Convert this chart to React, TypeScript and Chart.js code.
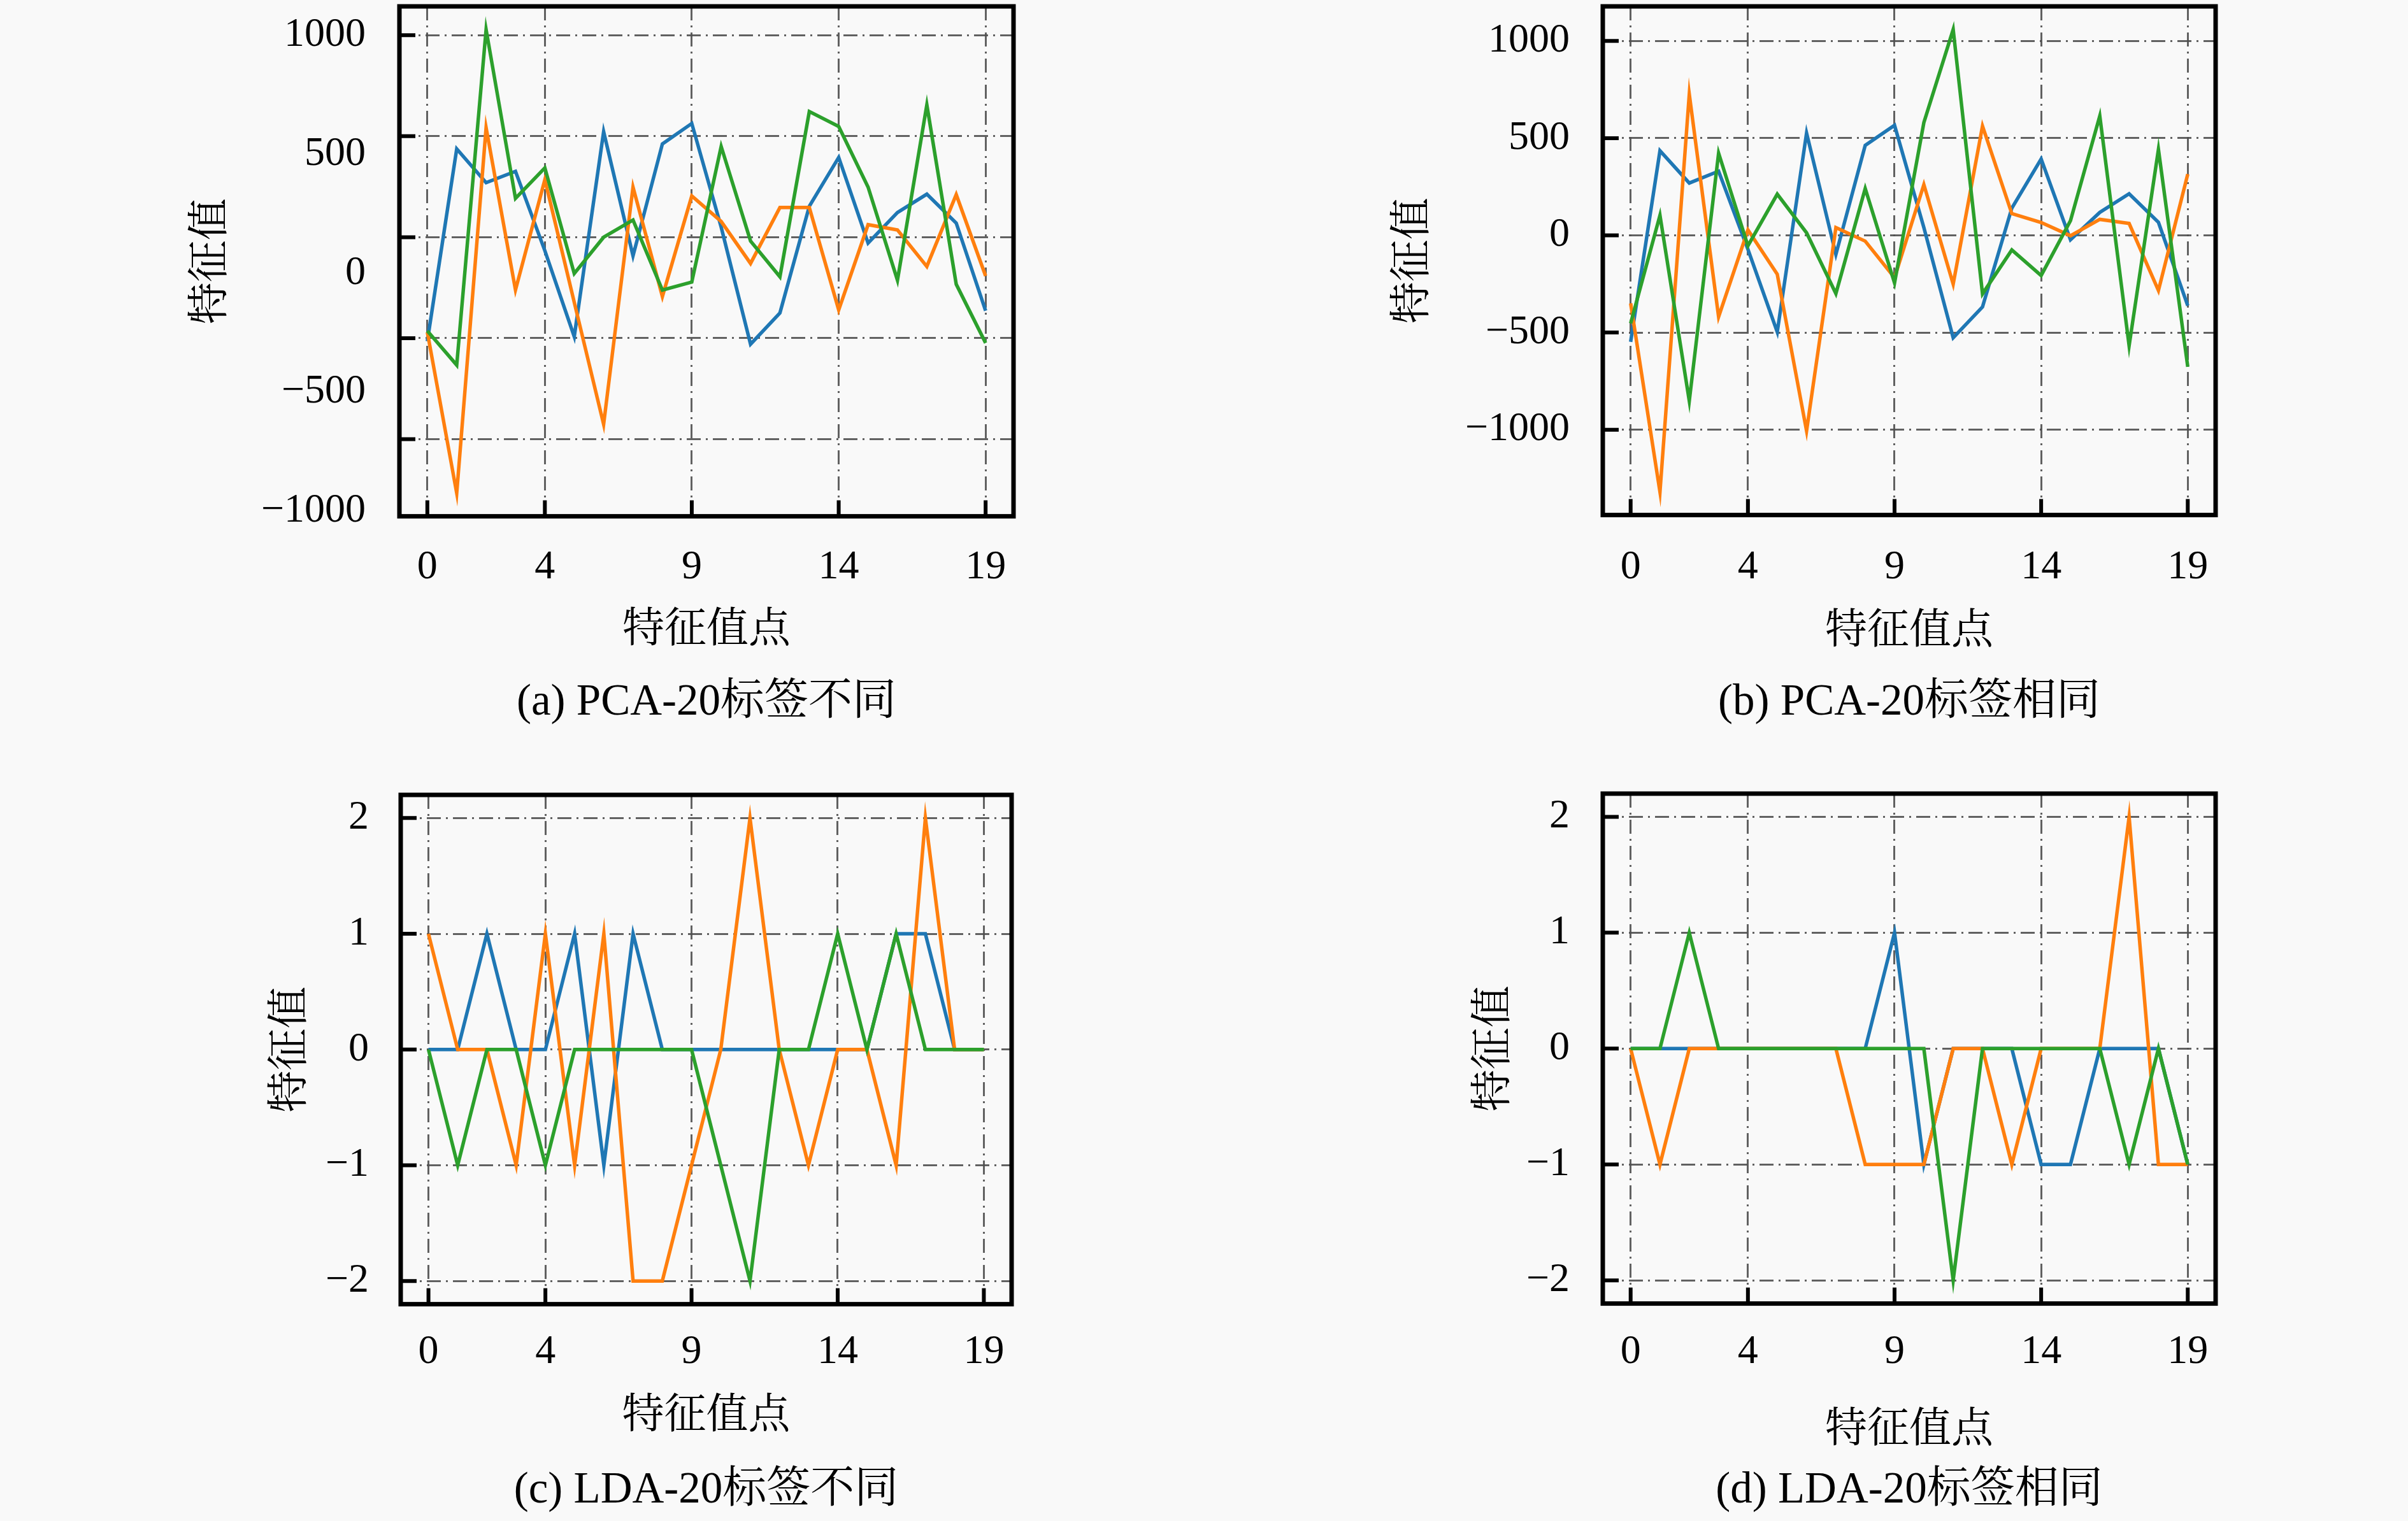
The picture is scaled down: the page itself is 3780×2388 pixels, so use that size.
import React, { useEffect, useRef } from 'react';
import { Chart, registerables } from 'chart.js';

Chart.register(...registerables);

// ---------- data ----------
const featureIdx = [0, 1, 2, 3, 4, 5, 6, 7, 8, 9, 10, 11, 12, 13, 14, 15, 16, 17, 18, 19];
const xTicks = [0, 4, 9, 14, 19];
const yTicksPCA = [-1000, -500, 0, 500, 1000];
const yTicksLDA = [-2, -1, 0, 1, 2];

// (a) PCA-20 labels differ
const pcaDiffBlue = [-515, 437, 270, 326, -67, -492, 522, -92, 462, 563, 50, -530, -375, 153, 395, -29, 122, 213, 70, -364];
const pcaDiffOrange = [-470, -1267, 542, -261, 285, -322, -926, 248, -294, 204, 78, -130, 147, 147, -360, 62, 36, -145, 211, -192];
const pcaDiffGreen = [-464, -633, 1028, 192, 343, -180, 0, 85, -262, -222, 449, -19, -196, 622, 548, 248, -213, 655, -233, -524];

// (b) PCA-20 labels same
const pcaSameBlue = [-548, 435, 269, 330, -72, -497, 526, -98, 463, 566, 40, -527, -368, 140, 393, -23, 118, 214, 67, -362];
const pcaSameOrange = [-350, -1320, 726, -419, 28, -200, -1006, 40, -30, -218, 261, -251, 562, 112, 66, -2, 82, 61, -284, 315];
const pcaSameGreen = [-453, 103, -852, 423, -54, 212, 13, -300, 241, -245, 580, 1059, -301, -75, -207, 75, 614, -568, 442, -676];

// (c) LDA-20 labels differ
const ldaDiffBlue = [0, 0, 1, 0, 0, 1, -1, 1, 0, 0, 0, 0, 0, 0, 0, 0, 1, 1, 0, 0];
const ldaDiffOrange = [1, 0, 0, -1, 1, -1, 1, -2, -2, -1, 0, 2, 0, -1, 0, 0, -1, 2, 0, 0];
const ldaDiffGreen = [0, -1, 0, 0, -1, 0, 0, 0, 0, 0, -1, -2, 0, 0, 1, 0, 1, 0, 0, 0];

// (d) LDA-20 labels same
const ldaSameBlue = [0, 0, 0, 0, 0, 0, 0, 0, 0, 1, -1, 0, 0, 0, -1, -1, 0, 0, 0, -1];
const ldaSameOrange = [0, -1, 0, 0, 0, 0, 0, 0, -1, -1, -1, 0, 0, -1, 0, 0, 0, 2, -1, -1];
const ldaSameGreen = [0, 0, 1, 0, 0, 0, 0, 0, 0, 0, 0, -2, 0, 0, 0, 0, 0, -1, 0, -1];

const xTitle = '特征值点';
const yTitle = '特征值';

// ---------- style ----------
const COLORS = ['#1f77b4', '#ff7f0e', '#2ca02c'];
const FONT = "'Liberation Serif', 'Noto Serif CJK SC', 'Noto Sans CJK SC', serif";
const FS = 64;
const FS_TITLE = 66;
const FS_CAPTION = 69;
const LH = 1.2;
const GRID_COLOR = 'rgba(80,80,80,0.9)';
const GRID_DASH = [22, 8, 3, 8];
const LINE_W = 5.5;

type PanelCfg = {
  caption: string;
  series: number[][];
  yTicks: number[];
  labelRange?: [number, number];
  frame: { l: number; r: number; t: number; b: number };
  yTitleX: number;
  tickRight: number;
  xTickY: number;
  xTitleY: number;
  captionY: number;
};

const panels: PanelCfg[] = [
  {
    caption: '(a) PCA-20标签不同',
    series: [pcaDiffBlue, pcaDiffOrange, pcaDiffGreen],
    yTicks: yTicksPCA,
    labelRange: [-1022, 1122],
    frame: { l: 627, r: 1591, t: 10, b: 811 },
    yTitleX: 333, tickRight: 574, xTickY: 892, xTitleY: 991, captionY: 1104,
  },
  {
    caption: '(b) PCA-20标签相同',
    series: [pcaSameBlue, pcaSameOrange, pcaSameGreen],
    yTicks: yTicksPCA,
    frame: { l: 2516, r: 3478, t: 10, b: 809 },
    yTitleX: 2220, tickRight: 2464, xTickY: 892, xTitleY: 993, captionY: 1104,
  },
  {
    caption: '(c) LDA-20标签不同',
    series: [ldaDiffBlue, ldaDiffOrange, ldaDiffGreen],
    yTicks: yTicksLDA,
    frame: { l: 629, r: 1588, t: 1248, b: 2048 },
    yTitleX: 458, tickRight: 579, xTickY: 2124, xTitleY: 2225, captionY: 2341,
  },
  {
    caption: '(d) LDA-20标签相同',
    series: [ldaSameBlue, ldaSameOrange, ldaSameGreen],
    yTicks: yTicksLDA,
    frame: { l: 2516, r: 3478, t: 1246, b: 2047 },
    yTitleX: 2347, tickRight: 2464, xTickY: 2124, xTitleY: 2247, captionY: 2341,
  },
];

function paddedRange(series: number[][]): [number, number] {
  const all = series.flat();
  const lo = Math.min(...all);
  const hi = Math.max(...all);
  const m = 0.05 * (hi - lo);
  return [lo - m, hi + m];
}

const fmt = (v: number) => (v < 0 ? '\u2212' + Math.abs(v) : String(v));

const frameTicks = {
  id: 'frameTicks',
  afterDraw(chart: any) {
    const { ctx, chartArea, scales } = chart;
    const { left, right, top, bottom } = chartArea;
    ctx.save();
    ctx.strokeStyle = '#000';
    ctx.lineCap = 'butt';
    ctx.lineWidth = 6;
    ctx.beginPath();
    scales.x.ticks.forEach((t: any) => {
      const px = scales.x.getPixelForValue(t.value);
      ctx.moveTo(px, bottom);
      ctx.lineTo(px, bottom - 25);
    });
    scales.y.ticks.forEach((t: any) => {
      const py = scales.y.getPixelForValue(t.value);
      ctx.moveTo(left, py);
      ctx.lineTo(left + 25, py);
    });
    ctx.stroke();
    ctx.lineWidth = 7;
    ctx.strokeRect(left, top, right - left, bottom - top);
    ctx.restore();
  },
};

function Panel({ cfg }: { cfg: PanelCfg }) {
  const ref = useRef<HTMLCanvasElement>(null);
  const lh = FS * LH;
  const lhT = FS_TITLE * LH;
  const lhC = FS_CAPTION * LH;
  const CL = cfg.yTitleX - 60;
  const CT = cfg.frame.t - 10;
  const CR = cfg.frame.r + 70;
  const CB = cfg.captionY + lhC / 2 + 4;
  const W = Math.round(CR - CL);
  const H = Math.round(CB - CT);

  useEffect(() => {
    const [lo, hi] = paddedRange(cfg.series);
    const labelRange = cfg.labelRange ?? [lo, hi];
    const font = { family: FONT, size: FS, lineHeight: LH, weight: 'normal' as const };
    const fontT = { family: FONT, size: FS_TITLE, lineHeight: LH, weight: 'normal' as const };
    const fontC = { family: FONT, size: FS_CAPTION, lineHeight: LH, weight: 'normal' as const };
    const chart = new Chart(ref.current as HTMLCanvasElement, {
      type: 'line',
      data: {
        datasets: cfg.series.map((s, k) => ({
          data: s.map((v, i) => ({ x: featureIdx[i], y: v })),
          borderColor: COLORS[k],
          backgroundColor: COLORS[k],
          borderWidth: LINE_W,
          pointRadius: 0,
          tension: 0,
          fill: false,
          order: 3 - k,
          yAxisID: 'y',
        })),
      },
      options: {
        responsive: false,
        animation: false,
        devicePixelRatio: 1,
        layout: { padding: { top: cfg.frame.t - CT, right: CR - cfg.frame.r, bottom: 0, left: 0 } },
        plugins: {
          legend: { display: false },
          tooltip: { enabled: false },
          title: {
            display: true,
            position: 'bottom',
            fullSize: false,
            text: cfg.caption,
            color: '#000',
            font: fontC,
            padding: { top: cfg.captionY - lhC / 2 - (cfg.xTitleY + lhT / 2), bottom: 4 },
          },
        },
        scales: {
          x: {
            type: 'linear',
            min: -0.95,
            max: 19.95,
            afterBuildTicks: (s: any) => { s.ticks = xTicks.map((v) => ({ value: v })); },
            afterFit: (s: any) => {
              s.height = cfg.xTitleY + lhT / 2 - cfg.frame.b;
              s.paddingLeft = 0;
              s.paddingRight = 0;
            },
            ticks: {
              autoSkip: false,
              maxRotation: 0,
              minRotation: 0,
              padding: cfg.xTickY - cfg.frame.b - lh / 2,
              font,
              color: '#000',
              callback: (v: any) => String(v),
            },
            grid: { color: GRID_COLOR, lineWidth: 3, drawTicks: false },
            border: { display: false, dash: GRID_DASH },
            title: { display: true, text: xTitle, color: '#000', font: fontT, padding: { top: 0, bottom: 0 } },
          },
          y: {
            type: 'linear',
            position: 'left',
            weight: 0,
            min: lo,
            max: hi,
            afterBuildTicks: (s: any) => { s.ticks = cfg.yTicks.map((v) => ({ value: v })); },
            afterFit: (s: any) => { s.width = 0; s.paddingTop = 0; s.paddingBottom = 0; },
            ticks: { display: false },
            grid: { color: GRID_COLOR, lineWidth: 3, drawTicks: false },
            border: { display: false, dash: GRID_DASH },
          },
          yl: {
            type: 'linear',
            position: 'left',
            weight: 1,
            min: labelRange[0],
            max: labelRange[1],
            afterBuildTicks: (s: any) => { s.ticks = cfg.yTicks.map((v) => ({ value: v })); },
            afterFit: (s: any) => { s.width = cfg.frame.l - CL; s.paddingTop = 0; s.paddingBottom = 0; },
            ticks: {
              padding: cfg.frame.l - cfg.tickRight,
              font,
              color: '#000',
              callback: (v: any) => fmt(Number(v)),
            },
            grid: { display: false, drawTicks: false },
            border: { display: false },
            title: { display: true, text: yTitle, color: '#000', font: fontT, padding: { top: 60 - lhT / 2, bottom: 0 } },
          },
        },
      } as any,
      plugins: [frameTicks],
    });
    return () => chart.destroy();
  }, []);

  return (
    <canvas
      ref={ref}
      width={W}
      height={H}
      style={{ position: 'absolute', left: CL, top: CT, width: W, height: H }}
    />
  );
}

export default function App() {
  return (
    <div
      style={{
        position: 'fixed',
        left: 0,
        top: 0,
        width: 3780,
        height: 2388,
        background: '#f9f9f9',
        overflow: 'hidden',
      }}
    >
      {panels.map((p, i) => (
        <Panel key={i} cfg={p} />
      ))}
    </div>
  );
}
